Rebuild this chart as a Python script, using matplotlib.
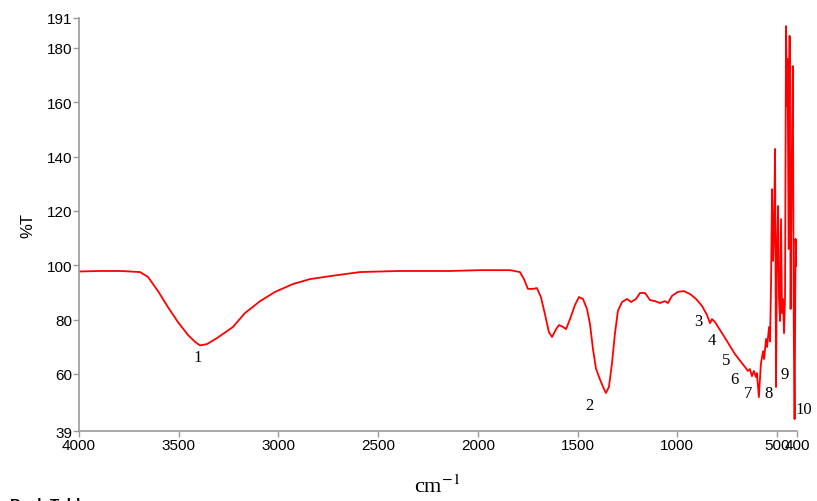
import numpy as np
import matplotlib
matplotlib.use('Agg')
import matplotlib.pyplot as plt
from matplotlib import font_manager

# FTIR spectrum values (wavenumber cm-1, %T)
wavenumber = [4000, 3895, 3794, 3694, 3654, 3604, 3554, 3504, 3453, 3418,
              3393, 3358, 3308, 3228, 3168, 3092, 3017, 2927, 2842, 2742,
              2591, 2391, 2140, 1989, 1839, 1789, 1769, 1749, 1724, 1704,
              1684, 1664, 1644, 1628, 1608, 1593, 1573, 1558, 1538, 1513,
              1493, 1473, 1453, 1438, 1423, 1408, 1388, 1368, 1358, 1343,
              1328, 1313, 1298, 1277, 1252, 1232, 1207, 1187, 1162, 1137,
              1112, 1087, 1062, 1047, 1027, 997, 967, 936, 906, 876,
              851, 836, 826, 811, 786, 751, 711, 676, 661, 646,
              636, 626, 616, 606, 601, 591, 581, 570, 565, 555,
              550, 540, 535, 530, 525, 520, 515, 510, 505, 500,
              495, 490, 485, 480, 475, 470, 465, 460, 455, 450,
              447, 442, 437, 432, 427, 421, 416, 412, 407, 403]
transmittance = [97.7, 97.9, 97.9, 97.5, 95.7, 90.5, 84.6, 79.1, 74.3, 71.8,
                 70.5, 71.0, 73.2, 77.3, 82.4, 86.8, 90.2, 93.1, 94.9, 96.0,
                 97.5, 97.9, 97.9, 98.2, 98.2, 97.5, 94.9, 91.3, 91.3, 91.6,
                 88.3, 82.1, 75.4, 73.6, 76.5, 78.0, 77.3, 76.5, 80.2, 85.4,
                 88.3, 87.6, 83.9, 78.4, 69.2, 62.0, 58.0, 54.5, 53.0, 55.2,
                 63.7, 74.7, 83.2, 86.5, 87.6, 86.5, 87.6, 89.8, 89.8, 87.2,
                 86.8, 86.1, 86.8, 86.1, 88.7, 90.2, 90.5, 89.4, 87.6, 85.0,
                 81.7, 78.7, 80.2, 79.1, 76.2, 72.1, 67.3, 64.0, 62.6, 61.1,
                 61.8, 59.2, 61.1, 58.9, 60.3, 51.5, 63.7, 68.4, 65.5, 72.9,
                 69.9, 77.3, 72.0, 93.8, 128.0, 101.6, 113.3, 142.8, 55.2, 106.0,
                 121.8, 87.6, 79.5, 117.0, 82.4, 87.6, 75.0, 87.6, 188.0, 158.6,
                 175.9, 106.0, 184.4, 83.9, 131.7, 173.3, 75.4, 43.4, 109.7, 99.7]

peak_labels = ['1', '2', '3', '4', '5', '6', '7', '8', '9', '10']
peak_label_x = [3403, 1443, 893, 828, 754, 713, 645, 545, 462, 365]
peak_label_y = [66.2, 48.4, 79.5, 72.5, 65.0, 58.0, 53.0, 53.0, 60.0, 47.0]

x_ticks = [4000, 3500, 3000, 2500, 2000, 1500, 1000, 500, 400]
y_ticks = [39, 60, 80, 100, 120, 140, 160, 180, 191]

names = {f.name for f in font_manager.fontManager.ttflist}
tick_font = 'Liberation Sans Narrow' if 'Liberation Sans Narrow' in names else 'Liberation Sans'
plt.rcParams['mathtext.fontset'] = 'stix'

fig = plt.figure(figsize=(8.17, 5.02), dpi=100)
ax = fig.add_axes([0.0967, 0.1394, 0.8788, 0.8228])
ax.plot(wavenumber, transmittance, color='#ff0000', linewidth=1.3)
ax.set_xlim(4000, 400)
ax.set_ylim(39, 191)
ax.set_xticks(x_ticks)
ax.set_yticks(y_ticks)
ax.set_xticklabels([str(t) for t in x_ticks], fontfamily=tick_font, fontsize=11)
ax.set_yticklabels([str(t) for t in y_ticks], fontfamily=tick_font, fontsize=11)
for s in ['top', 'right']:
    ax.spines[s].set_visible(False)
for s in ['left', 'bottom']:
    ax.spines[s].set_color('#9a9a9a')
    ax.spines[s].set_linewidth(1.2)
ax.tick_params(direction='out', length=4, width=1, color='#9a9a9a', pad=1)

for lab, lx, ly in zip(peak_labels, peak_label_x, peak_label_y):
    ax.text(lx, ly, lab, fontfamily='Liberation Serif', fontsize=12,
            ha='center', va='center', clip_on=False)

ax.set_ylabel('%T', fontfamily='Liberation Sans', fontsize=12, labelpad=8)
fig.text(0.535, 0.03, r'cm$^{-1}$', fontfamily='Liberation Serif', fontsize=16,
         ha='center', va='center')
fig.text(0.012, -0.014, 'Peak Table', fontfamily='Liberation Sans', fontsize=11,
         fontweight='bold', va='baseline')

plt.savefig('out.png', dpi=100)
